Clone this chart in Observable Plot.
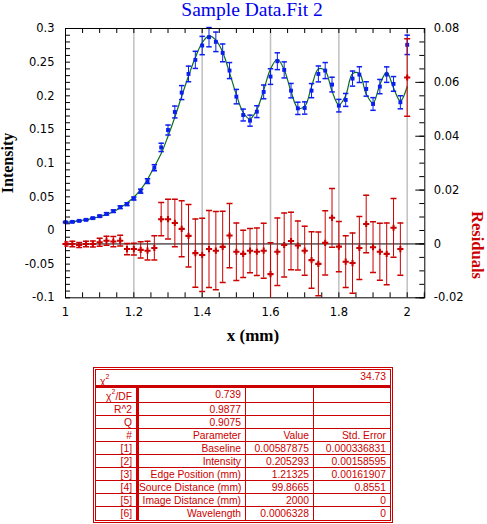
<!DOCTYPE html>
<html><head><meta charset="utf-8">
<script src="https://cdn.jsdelivr.net/npm/d3@7"></script>
<script src="https://cdn.jsdelivr.net/npm/@observablehq/plot@0.6"></script>
<style>
html,body{margin:0;padding:0;background:#fff;}
#wrap{position:relative;width:487px;height:524px;overflow:hidden;}
#plotA,#plotB,#labels{position:absolute;left:0;top:0;}
#tbl{position:absolute;left:93px;top:367px;width:300px;height:156px;box-sizing:border-box;border:3px double #cc0000;display:grid;grid-template-columns:43px 107px 68px 76px;grid-template-rows:18px 15px repeat(9,13px);font-family:"Liberation Sans",Arial,sans-serif;font-size:10.3px;color:#cc0000;}
.cell{box-sizing:border-box;border-color:#cc0000;border-style:solid;border-width:0 1px 1px 0;text-align:right;padding-right:4px;line-height:13px;white-space:nowrap;overflow:hidden;}
.c1{border-right-width:3px;}
.c4{border-right-width:0;}
.last{border-bottom-width:0;}
.top{grid-column:1 / span 4;border-right-width:0;border-bottom-width:3px;display:flex;justify-content:space-between;padding-left:4px;}
sup{font-size:7px;line-height:0;vertical-align:6px;}
</style>
</head><body>
<div id="wrap">
  <div id="plotA"></div>
  <div id="plotB"></div>
  <svg id="labels" width="487" height="524">
    <text x="252" y="16" text-anchor="middle" fill="#0000ee" font-family="Liberation Serif" font-size="19.5">Sample Data.Fit 2</text>
    <text x="253" y="341" text-anchor="middle" fill="#000" font-family="Liberation Serif" font-weight="bold" font-size="17">x (mm)</text>
    <text transform="translate(13,163) rotate(-90)" text-anchor="middle" fill="#000" font-family="Liberation Serif" font-weight="bold" font-size="16">Intensity</text>
    <text transform="translate(472,245) rotate(90)" text-anchor="middle" fill="#cc0000" font-family="Liberation Serif" font-weight="bold" font-size="16.5">Residuals</text>
  </svg>
  <div id="tbl"></div>
</div>
<script>
// ---- data ----
const xs = [1.00,1.02,1.04,1.06,1.08,1.10,1.12,1.14,1.16,1.18,1.20,1.22,1.24,1.26,1.28,1.30,1.32,1.34,1.36,1.38,
            1.40,1.42,1.44,1.46,1.48,1.50,1.52,1.54,1.56,1.58,1.60,1.62,1.64,1.66,1.68,1.70,1.72,1.74,1.76,
            1.78,1.80,1.82,1.84,1.86,1.88,1.90,1.92,1.94,1.96,1.98,2.00];
const intensity = [0.0123,0.0128,0.0143,0.0158,0.0183,0.0212,0.0247,0.0287,0.0346,0.0391,
                   0.0475,0.0584,0.0733,0.0932,0.1234,0.1492,0.1760,0.2048,0.2325,0.2534,
                   0.2747,0.2871,0.2802,0.2638,0.2375,0.1988,0.1715,0.1631,0.1765,0.2058,
                   0.2286,0.2514,0.2385,0.2077,0.1814,0.1819,0.2077,0.2325,0.2375,
                   0.2167,0.1854,0.1939,0.2256,0.2315,0.2102,0.1879,0.2137,0.2315,0.2177,0.1904,0.2757];
const fit = [0.0123,0.0128,0.0147,0.0158,0.0183,0.0206,0.0235,0.0278,0.0334,0.0410,
             0.0494,0.0606,0.0758,0.0947,0.1142,0.1400,0.1682,0.1992,0.2295,0.2568,
             0.2788,0.2890,0.2827,0.2649,0.2344,0.2017,0.1752,0.1656,0.1794,0.2083,
             0.2398,0.2543,0.2389,0.2066,0.1820,0.1844,0.2137,0.2399,0.2371,
             0.2070,0.1864,0.2005,0.2327,0.2330,0.2028,0.1891,0.2166,0.2352,0.2117,0.1923,0.2139];
const residual = [0,0,-0.0004,0,0,0.0006,0.0012,0.0009,0.0012,-0.0019,
                  -0.0019,-0.0022,-0.0025,-0.0015,0.0092,0.0092,0.0078,0.0056,0.0030,-0.0034,
                  -0.0041,-0.0019,-0.0025,-0.0011,0.0031,-0.0029,-0.0037,-0.0025,-0.0029,-0.0025,
                  -0.0112,-0.0029,-0.0004,0.0011,-0.0006,-0.0025,-0.0060,-0.0074,0.0004,
                  0.0097,-0.0010,-0.0066,-0.0071,-0.0015,0.0074,-0.0012,-0.0029,-0.0037,0.0060,-0.0019,0.0618];
const stdErr = [0.00075,0.0010,0.0009,0.0010,0.0011,0.0015,0.0017,0.0019,0.0020,0.0021,
                0.0022,0.0030,0.0035,0.0045,0.0062,0.0074,0.0088,0.0104,0.0116,0.0127,
                0.0136,0.0143,0.0145,0.0132,0.0119,0.0107,0.0088,0.0082,0.0088,0.0102,
                0.0116,0.0125,0.0119,0.0107,0.0091,0.0091,0.0105,0.0118,0.0119,
                0.0109,0.0093,0.0096,0.0112,0.0117,0.0107,0.0094,0.0106,0.0115,0.0109,0.0097,0.0144];

const leftTicks = [-0.1,-0.05,0,0.05,0.1,0.15,0.2,0.25,0.3];
const rightTicks = [-0.02,0,0.02,0.04,0.06,0.08];
const bottomTicks = [1,1.2,1.4,1.6,1.8,2];
const gridX = [1.2,1.4,1.6,1.8,2];

const chiSquare = "34.73";
const statNames = ["χ<sup>2</sup>/DF","R^2","Q"];
const statValues = ["0.739","0.9877","0.9075"];
const paramHeader = ["#","Parameter","Value","Std. Error"];
const paramIdx = ["[1]","[2]","[3]","[4]","[5]","[6]"];
const paramNames = ["Baseline","Intensity","Edge Position (mm)","Source Distance (mm)","Image Distance (mm)","Wavelength"];
const paramValues = ["0.00587875","0.205293","1.21325","99.8665","2000","0.0006328"];
const paramErrors = ["0.000336831","0.00158595","0.00161907","0.8551","0","0"];

// ---- chart ----
const rows = xs.map((x,i)=>({x, y:intensity[i], fit:fit[i], r:residual[i], e:stdErr[i]}));
const W=487,H=355,ML=65,MR=62.7,MT=28,MB=57.7;
const FW=W-ML-MR, FH=H-MT-MB;
const xDomain=[1,2.0515];
const blue="#0a1ef0", red="#cc0000", green="#0b6e1e";
const cap = {draw(ctx,size){const w=Math.sqrt(size/Math.PI);ctx.moveTo(-w,0);ctx.lineTo(w,0);}};
const fmt = d => String(+(+d).toFixed(3));
const style = {fontFamily:"DejaVu Sans",fontSize:"11.5px",background:"transparent",color:"black",overflow:"visible"};

const plotA = Plot.plot({
  width:W,height:H,marginTop:MT,marginRight:MR,marginBottom:MB,marginLeft:ML,
  x:{domain:xDomain,label:null}, y:{domain:[-0.1,0.3],label:null},
  style,
  marks:[
    Plot.ruleX(gridX,{stroke:"#c0c0c0",strokeWidth:1.5}),
    Plot.tickY(d3.range(-0.1,0.3001,0.01),{insetRight:FW-5}),
    Plot.tickX(d3.range(1,2.051,0.05),{insetTop:FH-5}),
    Plot.tickX(d3.range(1,2.051,0.05),{insetBottom:FH-5}),
    Plot.axisY(leftTicks,{tickSize:0,tickPadding:11,tickFormat:fmt,label:null}),
    Plot.axisX(bottomTicks,{tickSize:0,tickPadding:10,tickFormat:fmt,label:null}),
    Plot.line(rows,{x:"x",y:"fit",stroke:green,strokeWidth:1.2,curve:"catmull-rom"}),
    Plot.ruleX(rows,{x:"x",y1:d=>d.y-d.e,y2:d=>d.y+d.e,stroke:blue}),
    Plot.dot(rows,{x:"x",y:d=>d.y-d.e,symbol:cap,r:2.7,stroke:blue,fill:"none"}),
    Plot.dot(rows,{x:"x",y:d=>d.y+d.e,symbol:cap,r:2.7,stroke:blue,fill:"none"}),
    Plot.dot(rows,{x:"x",y:"y",symbol:"square",r:2.2,fill:blue,stroke:"none"}),
    Plot.frame({stroke:"black"})
  ]
});
document.getElementById("plotA").appendChild(plotA);

const plotB = Plot.plot({
  width:W,height:H,marginTop:MT,marginRight:MR,marginBottom:MB,marginLeft:ML,
  x:{domain:xDomain,axis:null,label:null}, y:{domain:[-0.02,0.08],label:null},
  style,
  marks:[
    Plot.ruleY([0],{stroke:"black"}),
    Plot.tickY(d3.range(-0.02,0.0801,0.005),{insetLeft:FW-5}),
    Plot.tickY(rightTicks,{insetLeft:FW-9}),
    Plot.axisY(rightTicks,{anchor:"right",tickSize:0,tickPadding:9,tickFormat:fmt,label:null}),
    Plot.ruleX(rows,{x:"x",y1:d=>d.r-d.e,y2:d=>d.r+d.e,stroke:red,clip:true}),
    Plot.dot(rows,{x:"x",y:d=>d.r-d.e,symbol:cap,r:3,stroke:red,fill:"none",clip:true}),
    Plot.dot(rows,{x:"x",y:d=>d.r+d.e,symbol:cap,r:3,stroke:red,fill:"none",clip:true}),
    Plot.dot(rows,{x:"x",y:"r",symbol:"cross",r:2.6,fill:red,stroke:"none"})
  ]
});
document.getElementById("plotB").appendChild(plotB);

// ---- fit table ----
const tbl = document.getElementById("tbl");
function cell(html, cls, extra){
  const d=document.createElement("div");
  d.className="cell "+cls; d.innerHTML=html;
  if(extra) Object.assign(d.style, extra);
  tbl.appendChild(d); return d;
}
cell(`<span style="padding-top:5px;line-height:13px">χ<sup>2</sup></span><span>${chiSquare}</span>`,"top");
statNames.forEach((n,i)=>{
  const first = i===0;
  cell(n,"c1", first?{paddingTop:"2px"}:null);
  cell(statValues[i],"c2");
  cell("","c3");
  cell("","c4");
});
paramHeader.forEach((h,j)=>cell(h,"c"+(j+1)));
paramIdx.forEach((p,i)=>{
  const last = i===paramIdx.length-1 ? " last" : "";
  cell(p,"c1"+last);
  cell(paramNames[i],"c2"+last);
  cell(paramValues[i],"c3"+last);
  cell(paramErrors[i],"c4"+last);
});
</script>
</body></html>
